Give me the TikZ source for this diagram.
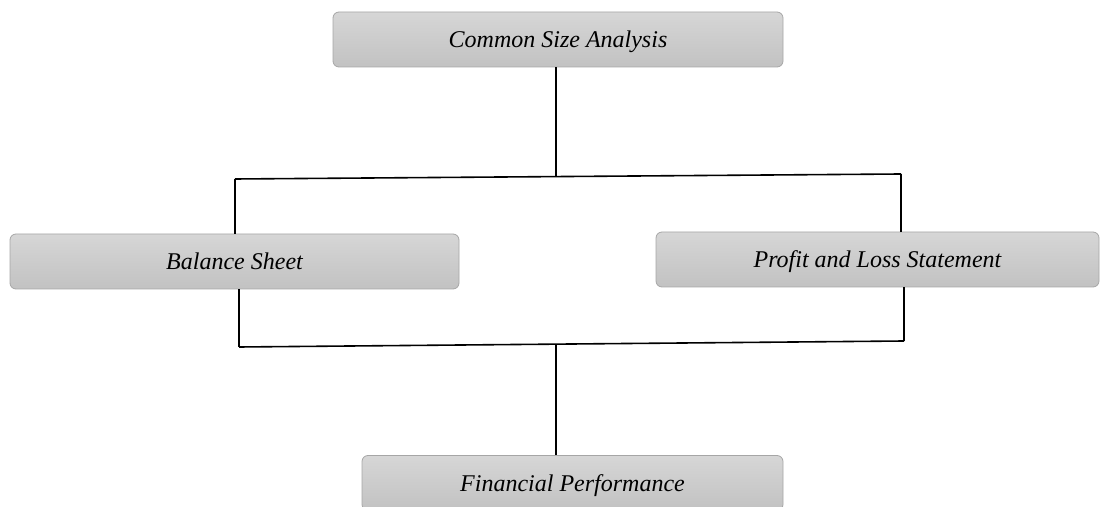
\documentclass[tikz,border=0pt]{standalone}
\usepackage{fontspec}
\setmainfont{Liberation Serif}
\begin{document}
\begin{tikzpicture}[x=1pt, y=1pt,
            every node/.style={rectangle, align=center},
            stepbox/.style={draw=gray!70, line width=0.8pt, rounded corners=6pt,
                top color=gray!32, bottom color=gray!48, minimum height=55pt,
                inner sep=0pt, text depth=0pt, font=\fontsize{24}{28}\selectfont\itshape},
            bracket/.style={draw, black, line width=1.6pt}]
        \useasboundingbox (0,0) rectangle (1100,506);
        \node [stepbox, minimum width=450pt] (csa) at (558,466.5) {Common Size Analysis};
        \node [stepbox, minimum width=449pt] (bs) at (234.5,244.5) {Balance Sheet};
        \node [stepbox, minimum width=443pt] (pl) at (877.5,246.5) {Profit and Loss Statement};
        \node [stepbox, minimum width=421pt] (fp) at (572.5,23) {Financial Performance};
        \coordinate (tl) at (235,327);
        \coordinate (tr) at (901,332);
        \coordinate (tm) at (556,329.4);
        \coordinate (bl) at (239,159);
        \coordinate (br) at (904,165);
        \coordinate (bm) at (556,161.4);
        \draw [bracket] (tl) -- (tr);
        \draw [bracket] (bl) -- (br);
        \draw [bracket] (tm) -- (tm |- csa.south);
        \draw [bracket] (tl) -- (tl |- bs.north);
        \draw [bracket] (bl) -- (bl |- bs.south);
        \draw [bracket] (tr) -- (tr |- pl.north);
        \draw [bracket] (br) -- (br |- pl.south);
        \draw [bracket] (bm) -- (bm |- fp.north);
\end{tikzpicture}
\end{document}
